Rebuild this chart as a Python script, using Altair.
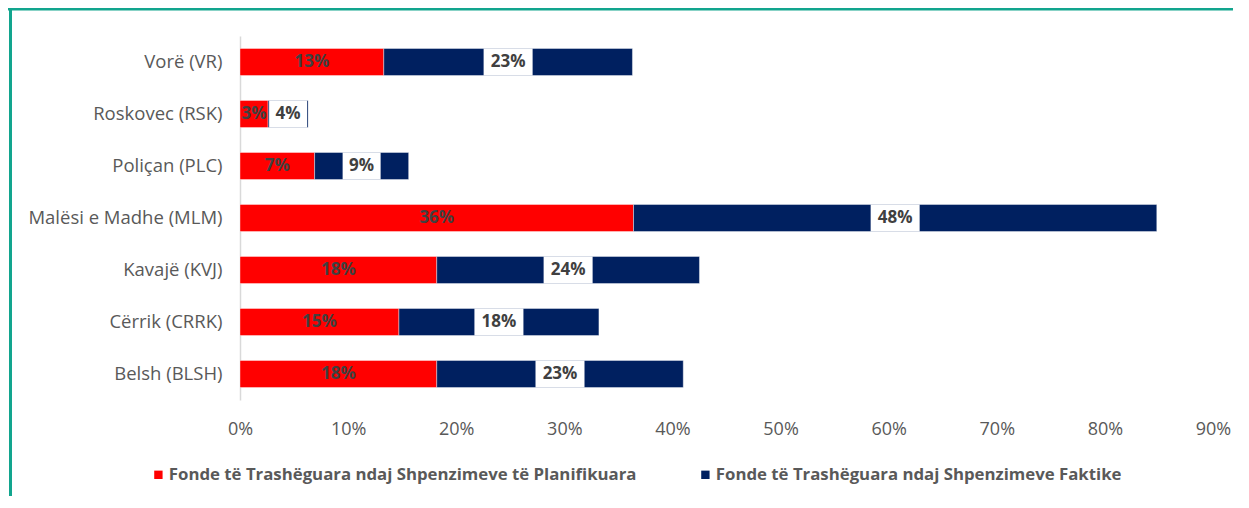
import altair as alt
import pandas as pd

categories = ["Vorë (VR)", "Roskovec (RSK)", "Poliçan (PLC)", "Malësi e Madhe (MLM)",
              "Kavajë (KVJ)", "Cërrik (CRRK)", "Belsh (BLSH)"]
planned = [13.3, 2.6, 6.9, 36.4, 18.2, 14.7, 18.2]
actual = [23.0, 3.7, 8.7, 48.4, 24.3, 18.5, 22.8]
series = ["Fonde të Trashëguara ndaj Shpenzimeve të Planifikuara",
          "Fonde të Trashëguara ndaj Shpenzimeve Faktike"]
colors = ["#FF0000", "#002060"]
tick_values = [0, 0.1, 0.2, 0.3, 0.4, 0.5, 0.6, 0.7, 0.8, 0.9]

FONT = "Open Sans"

rows = []
for c, p, a in zip(categories, planned, actual):
    rows.append(dict(cat=c, series=series[0], start=0, end=p / 100, mid=p / 200,
                     label=f"{round(p)}%", order=0))
    rows.append(dict(cat=c, series=series[1], start=p / 100, end=(p + a) / 100,
                     mid=(p + a / 2) / 100, label=f"{round(a)}%", order=1))
df = pd.DataFrame(rows)
df["lablen"] = df["label"].str.len()

yscale = alt.Scale(paddingInner=0.48, paddingOuter=0.24)
y_axis = alt.Y("cat:N", sort=categories, title=None, scale=yscale,
               axis=alt.Axis(labelFont=FONT, labelFontSize=18.5, labelColor="#595959",
                             labelPadding=18, ticks=False, domainColor="#d9d9d9",
                             domainWidth=1.5, labelLimit=300))
y_plain = alt.Y("cat:N", sort=categories, title=None, scale=yscale)
xscale = alt.Scale(domain=[0, 0.9], nice=False)

bars = alt.Chart(df).mark_bar(stroke="white", strokeWidth=0.4).encode(
    y=y_axis,
    x=alt.X("start:Q", scale=xscale, title=None,
            axis=alt.Axis(format=".0%", values=tick_values, grid=False, domain=False,
                          ticks=False, labelPadding=20, labelFont=FONT, labelFontSize=18,
                          labelColor="#595959", labelFlush=False)),
    x2="end:Q",
    color=alt.Color("series:N", scale=alt.Scale(domain=series, range=colors),
                    legend=alt.Legend(title=None, orient="none", legendX=-90, legendY=430,
                                      direction="horizontal", symbolType="square",
                                      symbolSize=70, symbolStrokeWidth=0,
                                      labelFont=FONT, labelFontSize=16.8,
                                      labelFontWeight="bold", labelColor="#595959",
                                      columnPadding=60, labelLimit=700, labelOffset=2)),
)

navy = df[df["order"] == 1]
box3 = alt.Chart(navy[navy["lablen"] == 3]).mark_bar(
    color="white", xOffset=-24.5, x2Offset=24.5).encode(
    y=y_plain, x=alt.X("mid:Q", scale=xscale), x2="mid:Q")
box2 = alt.Chart(navy[navy["lablen"] == 2]).mark_bar(
    color="white", xOffset=-19, x2Offset=19).encode(
    y=y_plain, x=alt.X("mid:Q", scale=xscale), x2="mid:Q")

labels = alt.Chart(df).mark_text(font=FONT, fontSize=17, fontWeight="bold",
                                 color="#404040").encode(
    y=y_plain, x=alt.X("mid:Q", scale=xscale), text="label:N")

frame_top = alt.Chart(pd.DataFrame({"k": [0]})).mark_rule(color="#12a58e", strokeWidth=3).encode(
    x=alt.value(-240), x2=alt.value(1000), y=alt.value(-27))
frame_left = alt.Chart(pd.DataFrame({"k": [0]})).mark_rule(color="#12a58e", strokeWidth=3).encode(
    x=alt.value(-229.5), y=alt.value(-28), y2=alt.value(470))

chart = alt.layer(bars, box3, box2, labels, frame_top, frame_left).properties(
    width=973, height=364,
    autosize=alt.AutoSizeParams(type="none"),
    padding={"left": 232, "top": 28, "right": 20, "bottom": 96},
).configure_view(stroke=None)

chart.save("out.html", embed_options={"renderer": "svg", "actions": False})
